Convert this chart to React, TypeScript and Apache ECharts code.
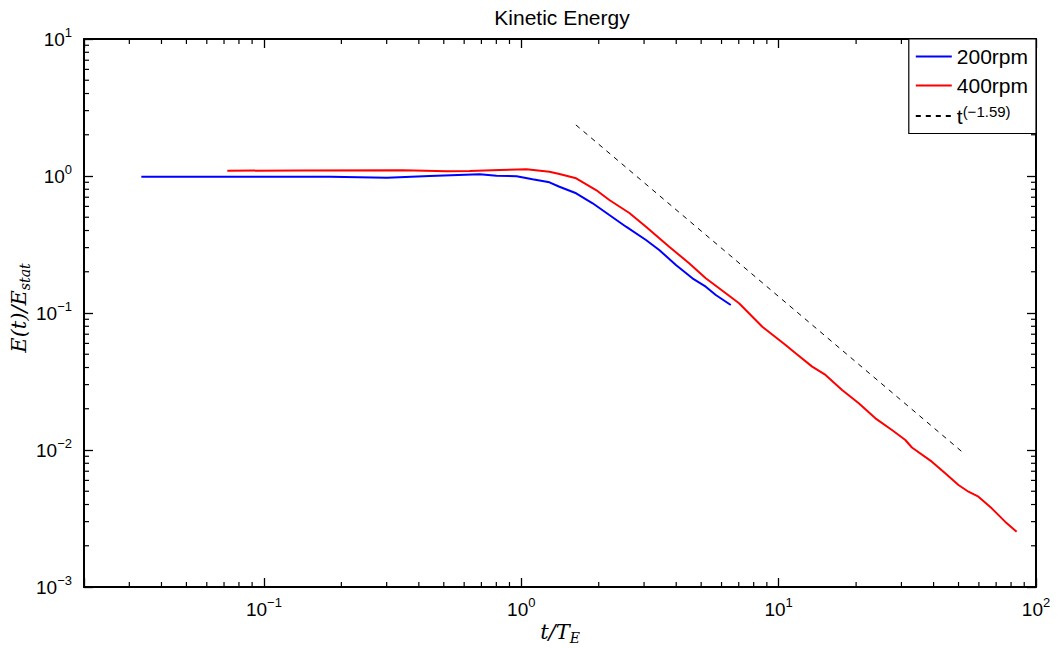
import React, { useEffect, useRef } from "react";
import * as echarts from "echarts";

const X_MIN = 0.02;
const X_MAX = 100;
const Y_MIN = 0.001;
const Y_MAX = 10;

// 200 rpm: t/T_E and E(t)/E_stat
const T200 = [0.0334, 0.0566, 0.0967, 0.181, 0.301, 0.441, 0.689, 0.802, 0.959, 1.106, 1.287, 1.407, 1.634, 1.894, 2.199, 2.553, 3.052, 3.436, 3.99, 4.624, 5.21, 5.7, 6.516];
const E200 = [0.988, 0.988, 0.988, 0.988, 0.972, 0.998, 1.029, 1.005, 0.995, 0.946, 0.899, 0.835, 0.748, 0.632, 0.519, 0.4265, 0.341, 0.2884, 0.224, 0.1792, 0.1556, 0.1353, 0.1144];

// 400 rpm
const T400 = [0.0721, 0.138, 0.347, 0.514, 0.63, 0.824, 1.048, 1.287, 1.407, 1.634, 1.953, 2.199, 2.63, 3.052, 3.757, 4.49, 5.21, 6.232, 7.018, 8.64, 10.64, 11.64, 13.5, 15.21, 17.64, 20.48, 23.77, 27.56, 31.07, 32.95, 39.38, 44.39, 49.98, 54.65, 59.76, 67.29, 75.83, 84.09];
const E400 = [1.093, 1.097, 1.1, 1.082, 1.088, 1.106, 1.119, 1.075, 1.035, 0.962, 0.79, 0.668, 0.537, 0.4265, 0.3048, 0.2306, 0.1792, 0.1392, 0.1177, 0.0794, 0.0584, 0.0508, 0.0406, 0.0353, 0.0274, 0.02193, 0.01703, 0.014, 0.01183, 0.01043, 0.00822, 0.00676, 0.00555, 0.00496, 0.00456, 0.00375, 0.003, 0.00253];

// power-law reference t^(-1.59)
const T_FIT = [1.63, 52.3];
const E_FIT = [2.36, 0.0095];

const FIT_NAME = "t(\u22121.59)";
const SERIES_NAMES = ["200rpm", "400rpm", FIT_NAME];

// minor tick positions (MATLAB style 2..9 per decade)
const MINOR_X = [0.03, 0.04, 0.05, 0.06, 0.07, 0.08, 0.09, 0.2, 0.3, 0.4, 0.5, 0.6, 0.7, 0.8, 0.9, 2, 3, 4, 5, 6, 7, 8, 9, 20, 30, 40, 50, 60, 70, 80, 90];
const MINOR_Y = [0.002, 0.003, 0.004, 0.005, 0.006, 0.007, 0.008, 0.009, 0.02, 0.03, 0.04, 0.05, 0.06, 0.07, 0.08, 0.09, 0.2, 0.3, 0.4, 0.5, 0.6, 0.7, 0.8, 0.9, 2, 3, 4, 5, 6, 7, 8, 9];

const SANS = "'Liberation Sans', Arial, Helvetica, sans-serif";
const SERIF = "'DejaVu Serif', 'Liberation Serif', serif";

const zip = (a: number[], b: number[]) => a.map((v, i) => [v, b[i]]);

const powLabel = (v: number) => {
  const l = Math.log10(v);
  const e = Math.round(l);
  if (Math.abs(l - e) > 1e-6) return "";
  const s = e < 0 ? "\u2212" + -e : String(e);
  return "{b|10}{s|" + s + "}";
};

const tickRich = {
  b: { fontSize: 19, fontFamily: SANS, color: "#000", lineHeight: 26 },
  s: { fontSize: 13, fontFamily: SANS, color: "#000", lineHeight: 14, verticalAlign: "top" },
};

const nameRich = {
  i: { fontFamily: SERIF, fontStyle: "italic", fontSize: 21, color: "#000", lineHeight: 26 },
  s: { fontFamily: SERIF, fontStyle: "italic", fontSize: 14, color: "#000", lineHeight: 15, verticalAlign: "bottom" },
};

const MAJOR_LEN = 9;
const MINOR_LEN = 5;

export default function App() {
  const ref = useRef<HTMLDivElement>(null);
  useEffect(() => {
    if (!ref.current) return;
    const chart = echarts.init(ref.current, null, { renderer: "svg" });
    const axisLine = { show: true, lineStyle: { color: "#000", width: 2 } };
    const axisTick = { show: true, inside: true, length: MAJOR_LEN, lineStyle: { color: "#000", width: 1.3 } };
    const option: any = {
      animation: false,
      backgroundColor: "#fff",
      title: {
        text: "Kinetic Energy",
        left: 557,
        top: 2,
        textAlign: "center",
        textStyle: { fontFamily: SANS, fontSize: 21, fontWeight: "normal", color: "#000" },
      },
      grid: { left: 84, right: 28, top: 39, bottom: 61, containLabel: false, outerBoundsMode: "none" },
      legend: {
        data: SERIES_NAMES,
        orient: "vertical",
        right: 28,
        top: 39,
        itemWidth: 36,
        itemHeight: 14,
        itemGap: 8,
        padding: [7, 8, 7, 6],
        borderColor: "#000",
        borderWidth: 1.2,
        borderRadius: 0,
        backgroundColor: "#fff",
        itemStyle: { opacity: 0 },
        formatter: (name: string) => (name === FIT_NAME ? "{b|t}{s|(\u22121.59)}" : "{b|" + name + "}"),
        textStyle: {
          color: "#000",
          fontFamily: SANS,
          fontSize: 21,
          rich: {
            b: { fontSize: 21, fontFamily: SANS, color: "#000", lineHeight: 24 },
            s: { fontSize: 15, fontFamily: SANS, color: "#000", lineHeight: 15, verticalAlign: "top" },
          },
        },
      },
      xAxis: [
        {
          type: "log",
          logBase: 10,
          min: X_MIN,
          max: X_MAX,
          position: "bottom",
          axisLine,
          axisTick,
          splitLine: { show: false },
          axisLabel: { formatter: powLabel, margin: 9, rich: tickRich, color: "#000" },
          name: "{i|t/T}{s|E}",
          nameLocation: "middle",
          nameGap: 32,
          nameMoveOverlap: false,
          nameTextStyle: { rich: nameRich },
        },
        {
          type: "log",
          logBase: 10,
          min: X_MIN,
          max: X_MAX,
          position: "top",
          axisLine,
          axisTick,
          splitLine: { show: false },
          axisLabel: { show: false },
        },
      ],
      yAxis: [
        {
          type: "log",
          logBase: 10,
          min: Y_MIN,
          max: Y_MAX,
          position: "left",
          axisLine,
          axisTick,
          splitLine: { show: false },
          axisLabel: { formatter: powLabel, margin: 12, rich: tickRich, color: "#000" },
          name: "{i|E(t)/E}{s|stat}",
          nameLocation: "middle",
          nameGap: 52,
          nameMoveOverlap: false,
          nameTextStyle: { rich: nameRich, padding: [0, 0, 0, 10] },
        },
        {
          type: "log",
          logBase: 10,
          min: Y_MIN,
          max: Y_MAX,
          position: "right",
          axisLine,
          axisTick,
          splitLine: { show: false },
          axisLabel: { show: false },
        },
      ],
      series: [
        {
          name: "200rpm",
          type: "line",
          data: zip(T200, E200),
          symbol: "none",
          showSymbol: false,
          color: "#0000ff",
          lineStyle: { color: "#0000ff", width: 2 },
          z: 3,
        },
        {
          name: "400rpm",
          type: "line",
          data: zip(T400, E400),
          symbol: "none",
          showSymbol: false,
          color: "#ff0000",
          lineStyle: { color: "#ff0000", width: 2 },
          z: 3,
        },
        {
          name: FIT_NAME,
          type: "line",
          data: zip(T_FIT, E_FIT),
          symbol: "none",
          showSymbol: false,
          color: "#000",
          lineStyle: { color: "#000", width: 1, type: [5, 5] },
          z: 3,
        },
        {
          type: "custom",
          silent: true,
          data: MINOR_X.map((v) => [v, 1]),
          encode: { x: 0, y: 1 },
          renderItem: (_p: any, api: any) => {
            const v = api.value(0);
            const b = api.coord([v, Y_MIN]);
            const t = api.coord([v, Y_MAX]);
            const st = { stroke: "#000", lineWidth: 1.2 };
            return {
              type: "group",
              children: [
                { type: "line", shape: { x1: b[0], y1: b[1], x2: b[0], y2: b[1] - MINOR_LEN }, style: st },
                { type: "line", shape: { x1: t[0], y1: t[1], x2: t[0], y2: t[1] + MINOR_LEN }, style: st },
              ],
            };
          },
        },
        {
          type: "custom",
          silent: true,
          data: MINOR_Y.map((v) => [1, v]),
          encode: { x: 0, y: 1 },
          renderItem: (_p: any, api: any) => {
            const v = api.value(1);
            const l = api.coord([X_MIN, v]);
            const r = api.coord([X_MAX, v]);
            const st = { stroke: "#000", lineWidth: 1.2 };
            return {
              type: "group",
              children: [
                { type: "line", shape: { x1: l[0], y1: l[1], x2: l[0] + MINOR_LEN, y2: l[1] }, style: st },
                { type: "line", shape: { x1: r[0], y1: r[1], x2: r[0] - MINOR_LEN, y2: r[1] }, style: st },
              ],
            };
          },
        },
      ],
    };
    chart.setOption(option);
    return () => chart.dispose();
  }, []);
  return (
    <div
      ref={ref}
      style={{ position: "fixed", left: 0, top: 0, width: 1064, height: 648, background: "#fff" }}
    />
  );
}
